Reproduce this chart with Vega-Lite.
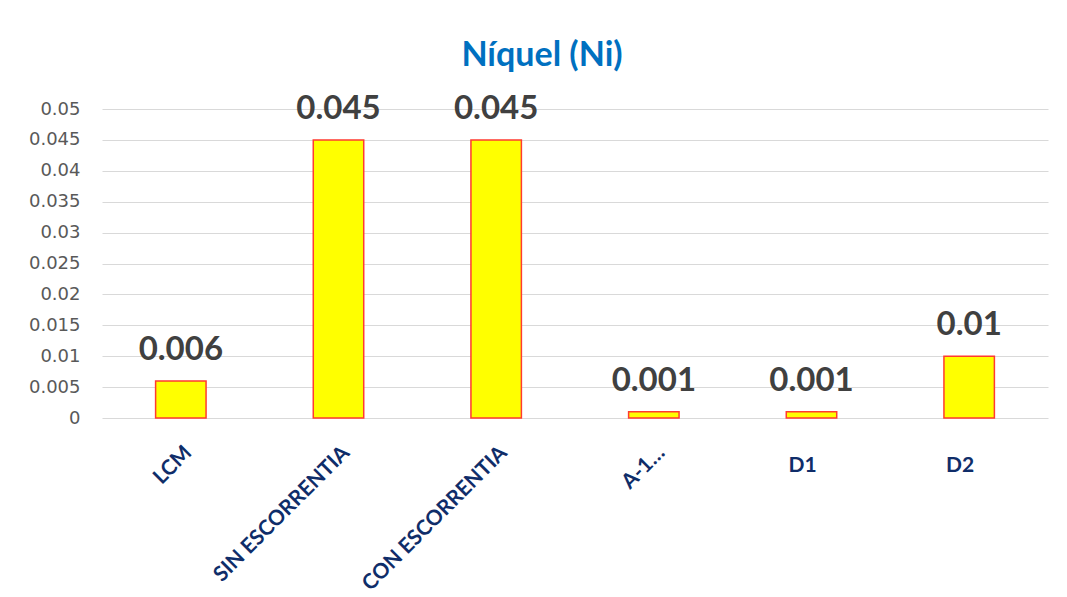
{
  "$schema": "https://vega.github.io/schema/vega-lite/v6.json",
  "autosize": {"type": "none"},
  "width": 946,
  "height": 309,
  "padding": {"left": 102, "top": 109, "right": 19, "bottom": 179},
  "background": "white",
  "config": {
    "view": {"stroke": null},
    "axisY": {
      "domain": false,
      "ticks": false,
      "grid": true,
      "gridColor": "#D9D9D9",
      "gridWidth": 1,
      "labelFont": "DejaVu Sans",
      "labelFontSize": 18,
      "labelColor": "#595959",
      "labelPadding": 22,
      "labelOverlap": false,
      "title": null
    }
  },
  "title": {
    "text": "Níquel (Ni)",
    "font": "Lato",
    "fontSize": 34,
    "fontWeight": "bold",
    "color": "#0070C0",
    "anchor": "middle",
    "offset": 20,
    "dx": -33
  },
  "data": {
    "values": [
      {"name": "LCM", "value": 0.006},
      {"name": "SIN ESCORRENTIA", "value": 0.045},
      {"name": "CON ESCORRENTIA", "value": 0.045},
      {"name": "A-1…", "value": 0.001},
      {"name": "D1", "value": 0.001},
      {"name": "D2", "value": 0.01}
    ]
  },
  "encoding": {
    "x": {
      "field": "name",
      "type": "nominal",
      "sort": null,
      "scale": {"paddingInner": 0.68, "paddingOuter": 0.34},
      "axis": null
    },
    "y": {
      "field": "value",
      "type": "quantitative",
      "scale": {"domain": [0, 0.05], "nice": false},
      "axis": {
        "title": null,
        "values": [0, 0.005, 0.01, 0.015, 0.02, 0.025, 0.03, 0.035, 0.04, 0.045, 0.05],
        "format": "~g",
        "labelOverlap": false
      }
    }
  },
  "layer": [
    {
      "mark": {"type": "bar", "fill": "#FFFF00", "stroke": "#FF3B30", "strokeWidth": 1.5}
    },
    {
      "mark": {"type": "text", "font": "Lato", "fontSize": 33, "fontWeight": "bold", "color": "#404040", "baseline": "alphabetic", "dy": -21},
      "encoding": {
        "text": {"field": "value", "type": "nominal"}
      }
    },
    {
      "transform": [{"filter": "datum.name != 'D1' && datum.name != 'D2'"}],
      "mark": {"type": "text", "font": "Lato", "fontSize": 21, "fontWeight": "bold", "color": "#0F2D69", "align": "right", "baseline": "middle", "angle": -45, "dx": -17, "dy": 28},
      "encoding": {
        "y": {"datum": 0, "type": "quantitative"},
        "text": {"field": "name", "type": "nominal"}
      }
    },
    {
      "transform": [{"filter": "datum.name == 'D1' || datum.name == 'D2'"}],
      "mark": {"type": "text", "font": "Lato", "fontSize": 21, "fontWeight": "bold", "color": "#0F2D69", "align": "center", "baseline": "middle", "dx": -9, "dy": 48},
      "encoding": {
        "y": {"datum": 0, "type": "quantitative"},
        "text": {"field": "name", "type": "nominal"}
      }
    }
  ]
}
